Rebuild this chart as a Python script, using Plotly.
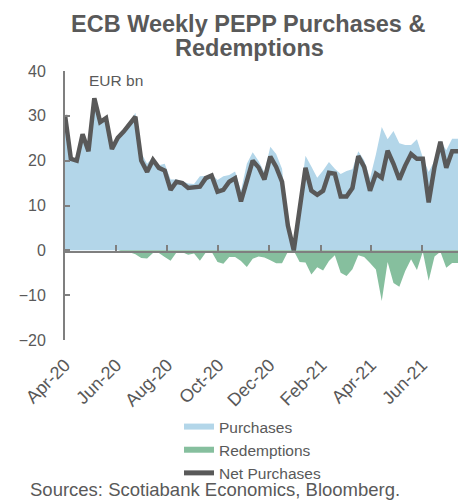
import datetime as dt
import plotly.graph_objects as go

# ---------------- data ----------------
start = dt.date(2020, 4, 3)
dates = [start + dt.timedelta(days=7 * k) for k in range(68)]

purchases = [30.2, 20.4, 20.0, 25.9, 22.1, 33.9, 28.6, 29.5, 22.6, 25.1,
             26.8, 28.4, 30.7, 21.7, 19.3, 20.8, 19.0, 19.3, 15.8, 15.8,
             15.4, 14.9, 14.8, 16.5, 16.6, 17.0, 15.7, 16.5, 16.8, 17.6,
             13.3, 19.3, 21.9, 19.9, 17.4, 23.1, 21.5, 18.2, 5.8, 0.1,
             11.1, 21.1, 18.7, 16.2, 17.8, 19.7, 18.2, 17.0, 17.7, 18.1,
             22.1, 20.1, 16.1, 21.4, 27.5, 24.8, 26.6, 23.9, 23.5, 23.5,
             24.8, 20.7, 17.5, 20.0, 24.5, 22.3, 24.9, 24.9]

redemptions = [0, 0, 0, 0, 0, 0, 0, 0, 0, 0,
               -0.3, -0.4, -0.9, -1.7, -1.8, -0.6, -0.6, -1.5, -2.3, -0.5,
               -0.4, -1.0, -0.7, -2.3, -0.5, -0.3, -2.6, -3.0, -1.5, -1.5,
               -2.4, -3.7, -1.9, -1.4, -1.6, -2.2, -2.9, -2.9, -0.3, -0.1,
               -2.6, -2.7, -5.4, -3.8, -4.5, -2.4, -1.1, -5.0, -5.7, -4.2,
               -1.1, -1.5, -2.8, -4.3, -11.3, -2.6, -7.3, -8.1, -4.6, -2.0,
               -4.4, -0.3, -6.8, -1.4, -0.3, -3.9, -2.8, -2.8]

net_purchases = [30.2, 20.4, 20.0, 25.9, 22.1, 33.9, 28.6, 29.5, 22.6, 25.1,
                 26.5, 28.0, 29.8, 20.0, 17.5, 20.2, 18.4, 17.8, 13.5, 15.3,
                 15.0, 13.9, 14.1, 14.2, 16.1, 16.7, 13.1, 13.5, 15.3, 16.1,
                 10.9, 15.6, 20.0, 18.5, 15.8, 20.9, 18.6, 15.3, 5.5, 0.0,
                 8.5, 18.4, 13.3, 12.4, 13.3, 17.3, 17.1, 12.0, 12.0, 13.9,
                 21.0, 18.6, 13.3, 17.1, 16.2, 22.2, 19.3, 15.8, 18.9, 21.5,
                 20.4, 20.4, 10.7, 18.6, 24.2, 18.4, 22.1, 22.1]

y_ticks = [-20, -10, 0, 10, 20, 30, 40]

# ---------------- styling ----------------
FONT = "Liberation Sans, Arial, sans-serif"
TXT = "#595959"
AXC = "#7f7f7f"
OFF = 8                      # page body margin of the exported html
W, H = 475 - OFF, 500 - OFF  # figure size so it fills the window
# plot area in window pixels: x 65..458, y 71..340
ML, MT = 65 - OFF, 71 - OFF
MR = W - (458 - OFF)
MB = H - (340 - OFF)
PW, PH = W - ML - MR, H - MT - MB


def px(p):  # window pixel x -> paper fraction
    return (p - OFF - ML) / PW


def py(p):  # window pixel y -> paper fraction
    return (H - MB - (p - OFF)) / PH


fig = go.Figure()
fig.add_trace(go.Scatter(x=dates, y=purchases, name="Purchases", mode="none",
                         fill="tozeroy", fillcolor="#b3d6e9", hoverinfo="x+y"))
fig.add_trace(go.Scatter(x=dates, y=redemptions, name="Redemptions", mode="none",
                         fill="tozeroy", fillcolor="#86bf9e", hoverinfo="x+y"))
fig.add_trace(go.Scatter(x=dates, y=net_purchases, name="Net Purchases", mode="lines",
                         line=dict(color="#595959", width=4.5), xaxis="x2"))

xr = [dates[0], dates[-1]]
fig.update_layout(
    width=W, height=H,
    margin=dict(l=ML, r=MR, t=MT, b=MB, pad=0, autoexpand=False),
    paper_bgcolor="white", plot_bgcolor="white",
    font=dict(family=FONT, color=TXT),
    showlegend=True,
    legend=dict(x=px(179), xanchor="left", y=py(410), yanchor="top",
                font=dict(size=15.5, color=TXT), bgcolor="rgba(0,0,0,0)",
                tracegroupgap=0, itemsizing="constant"),
    xaxis=dict(range=xr, type="date", tick0=dates[0].isoformat(), dtick="M2",
               tickformat="%b-%y", tickangle=-45, showline=False, ticks="",
               showgrid=False, zeroline=False, automargin=False,
               ticklabelstandoff=10, tickfont=dict(size=18, color=TXT)),
    xaxis2=dict(range=xr, type="date", matches="x", overlaying="x",
                anchor="free", position=py(251.5), tick0=dates[0].isoformat(),
                dtick="M2", showticklabels=False, showline=True, linecolor=AXC,
                linewidth=2, ticks="inside", ticklen=6, tickwidth=2,
                tickcolor=AXC, showgrid=False, zeroline=False, automargin=False),
    yaxis=dict(range=[-20, 40], tickvals=y_ticks, showgrid=False, zeroline=False,
               showline=True, linecolor=AXC, linewidth=2, ticks="inside",
               ticklen=5, tickwidth=2, tickcolor=AXC, ticklabelstandoff=14,
               automargin=False, tickfont=dict(size=16, color=TXT)),
    annotations=[
        dict(text="<b>ECB Weekly PEPP Purchases &</b>", x=px(248), y=py(24),
             xref="paper", yref="paper", xanchor="center", yanchor="middle",
             showarrow=False, font=dict(size=23.5, color=TXT)),
        dict(text="<b>Redemptions</b>", x=px(249), y=py(48),
             xref="paper", yref="paper", xanchor="center", yanchor="middle",
             showarrow=False, font=dict(size=23.5, color=TXT)),
        dict(text="EUR bn", x=px(87), y=py(80), xref="paper", yref="paper",
             xanchor="left", yanchor="middle", showarrow=False,
             font=dict(size=15.5, color=TXT)),
        dict(text="Sources: Scotiabank Economics, Bloomberg.", x=px(28), y=py(489),
             xref="paper", yref="paper", xanchor="left", yanchor="middle",
             showarrow=False, font=dict(size=18.5, color=TXT)),
    ],
)

fig.write_html("out.html")
